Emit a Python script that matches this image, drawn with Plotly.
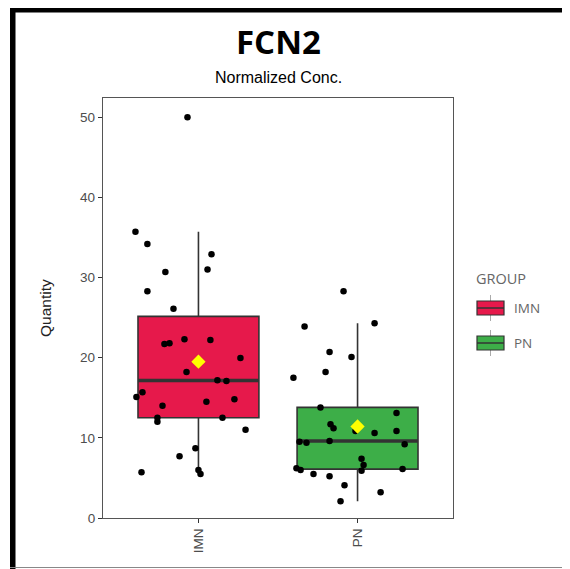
import numpy as np
import plotly.graph_objects as go

# ---------------- data ----------------
categories = ["IMN", "PN"]
cat_pos = [1, 2]

imn_values = [50.0, 35.7, 34.2, 32.9, 31.0, 30.7, 28.3, 26.1, 21.7, 21.8,
              22.3, 22.2, 19.95, 18.2, 17.2, 17.1, 15.7, 15.1, 14.8, 14.5,
              14.0, 12.5, 12.0, 12.5, 11.0, 8.7, 7.7, 5.7, 6.0, 5.5]
imn_jitter = [-0.069, -0.396, -0.321, 0.082, 0.057, -0.208, -0.321, -0.157, -0.214, -0.182,
              -0.088, 0.075, 0.264, -0.075, 0.119, 0.176, -0.352, -0.390, 0.226, 0.050,
              -0.226, -0.258, -0.258, 0.151, 0.296, -0.019, -0.119, -0.358, 0.0, 0.013]

pn_values = [28.3, 23.9, 24.3, 20.7, 20.1, 18.2, 17.5, 13.8, 13.1, 11.7,
             11.2, 10.85, 10.6, 10.85, 9.5, 9.4, 9.6, 9.2, 7.4, 6.6,
             5.9, 6.2, 6.0, 6.1, 5.5, 5.2, 4.1, 3.2, 2.1]
pn_jitter = [-0.088, -0.333, 0.107, -0.176, -0.038, -0.201, -0.403, -0.233, 0.245, -0.170,
             -0.151, -0.013, 0.107, 0.245, -0.365, -0.321, -0.176, 0.296, 0.025, 0.038,
             0.025, -0.384, -0.358, 0.283, -0.277, -0.176, -0.082, 0.145, -0.107]

group_colors = ["#E6194B", "#3DAE48"]
y_ticks = [0, 10, 20, 30, 40, 50]

# ---------------- helpers ----------------
def box_stats(vals):
    v = np.sort(np.array(vals, dtype=float))
    q1, med, q3 = np.percentile(v, [25, 50, 75])
    iqr = q3 - q1
    upper = v[v <= q3 + 1.5 * iqr].max()
    lower = v[v >= q1 - 1.5 * iqr].min()
    return q1, med, q3, lower, upper, v.mean()

BOX_W = 0.76
LINE_C = "#333333"

fig = go.Figure()
all_vals = [imn_values, pn_values]
all_jit = [imn_jitter, pn_jitter]

for name, pos, vals, jit, col in zip(categories, cat_pos, all_vals, all_jit, group_colors):
    q1, med, q3, lo, hi, mean = box_stats(vals)
    fig.add_trace(go.Box(
        x=[pos], q1=[q1], median=[med], q3=[q3], lowerfence=[lo], upperfence=[hi],
        width=BOX_W, whiskerwidth=0, fillcolor=col,
        line=dict(color=LINE_C, width=1.6), boxpoints=False, name=name,
        showlegend=False, hoverinfo="skip"))
    # thick median line
    fig.add_trace(go.Scatter(
        x=[pos - BOX_W / 2, pos + BOX_W / 2], y=[med, med], mode="lines",
        line=dict(color=LINE_C, width=3.5), showlegend=False, hoverinfo="skip"))
    # jittered points
    fig.add_trace(go.Scatter(
        x=[pos + j for j in jit], y=vals, mode="markers",
        marker=dict(color="black", size=6.5), showlegend=False, name=name))
    # mean
    fig.add_trace(go.Scatter(
        x=[pos], y=[mean], mode="markers",
        marker=dict(symbol="diamond", color="#FFFF00", size=11, line=dict(width=0)),
        showlegend=False))

# ---------------- layout ----------------
# page has an 8px body margin; figure is sized so the page fits 570x569 exactly
OFF = 8
FIG_W, FIG_H = 570 - OFF, 569 - OFF
PAGE_L, PAGE_T = 103, 98          # plot-area top-left on the page
PW, PH = 350, 420
L, T = PAGE_L - OFF, PAGE_T - OFF
R = FIG_W - L - PW
B = FIG_H - T - PH

def px_x(p):
    return (p - PAGE_L) / PW

def px_y(p):
    return (PAGE_T + PH - p) / PH

shapes = []
# outer black frame
shapes.append(dict(type="rect", xref="paper", yref="paper", x0=px_x(10), x1=px_x(15.5),
                   y0=px_y(575), y1=px_y(7), fillcolor="black", line=dict(width=0), layer="above"))
shapes.append(dict(type="rect", xref="paper", yref="paper", x0=px_x(10), x1=px_x(580),
                   y0=px_y(12.5), y1=px_y(7), fillcolor="black", line=dict(width=0), layer="above"))
shapes.append(dict(type="line", xref="paper", yref="paper", x0=px_x(10), x1=px_x(580),
                   y0=px_y(567.5), y1=px_y(567.5), line=dict(color="#888888", width=1.2)))

# manual legend
legend_rows = [308, 343]
annotations = []
for name, col, yc in zip(categories, group_colors, legend_rows):
    shapes.append(dict(type="line", xref="paper", yref="paper", x0=px_x(490.5), x1=px_x(490.5),
                       y0=px_y(yc - 13), y1=px_y(yc + 13), line=dict(color="#AAAAAA", width=1)))
    shapes.append(dict(type="rect", xref="paper", yref="paper", x0=px_x(477), x1=px_x(504),
                       y0=px_y(yc + 7), y1=px_y(yc - 7), fillcolor=col,
                       line=dict(color=LINE_C, width=1.2)))
    shapes.append(dict(type="line", xref="paper", yref="paper", x0=px_x(477), x1=px_x(504),
                       y0=px_y(yc), y1=px_y(yc), line=dict(color=LINE_C, width=1.5)))
    annotations.append(dict(text=name, xref="paper", yref="paper", x=px_x(512), y=px_y(yc),
                            xanchor="left", yanchor="middle", showarrow=False,
                            font=dict(family="Open Sans", size=13.5, color="#666666")))

annotations.append(dict(text="GROUP", xref="paper", yref="paper", x=px_x(474), y=px_y(278),
                        xanchor="left", yanchor="middle", showarrow=False,
                        font=dict(family="Open Sans", size=14.5, color="#666666")))
annotations.append(dict(text="<b>FCN2</b>", xref="paper", yref="paper", x=px_x(278), y=px_y(41),
                        xanchor="center", yanchor="middle", showarrow=False,
                        font=dict(family="Open Sans", size=33, color="black")))
annotations.append(dict(text="Normalized Conc.", xref="paper", yref="paper", x=px_x(278), y=px_y(78),
                        xanchor="center", yanchor="middle", showarrow=False,
                        font=dict(family="Liberation Sans", size=16, color="black")))
annotations.append(dict(text="Quantity", xref="paper", yref="paper", x=px_x(45), y=0.5,
                        xanchor="center", yanchor="middle", showarrow=False, textangle=-90,
                        font=dict(family="Liberation Sans", size=15.5, color="#222222")))

fig.update_layout(
    width=FIG_W, height=FIG_H,
    margin=dict(l=L, r=R, t=T, b=B, pad=0),
    paper_bgcolor="white", plot_bgcolor="white",
    showlegend=False,
    shapes=shapes, annotations=annotations,
    xaxis=dict(range=[0.4, 2.6], tickvals=cat_pos, ticktext=categories, tickangle=-90,
               showgrid=False, zeroline=False, showline=True, mirror=True,
               linecolor="#555555", linewidth=1.3, ticks="outside", ticklen=4,
               tickcolor="#333333", tickwidth=1.3,
               tickfont=dict(family="Liberation Sans", size=13.5, color="#4D4D4D")),
    yaxis=dict(range=[0, 52.4], tickvals=y_ticks, showgrid=False, zeroline=False,
               showline=True, mirror=True, linecolor="#555555", linewidth=1.3,
               ticks="outside", ticklen=4, tickcolor="#333333", tickwidth=1.3,
               tickfont=dict(family="Liberation Sans", size=13.5, color="#4D4D4D")),
)

fig.write_html("out.html")
